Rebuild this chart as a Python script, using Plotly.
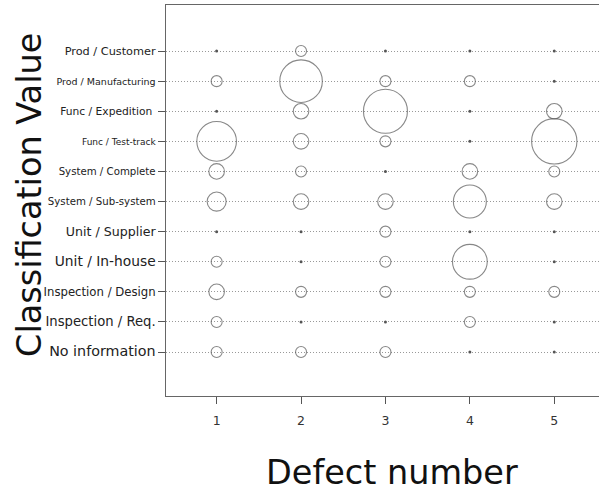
import plotly.graph_objects as go

# Categories, top to bottom as drawn
categories = [
    "Prod / Customer", "Prod / Manufacturing", "Func / Expedition ",
    "Func / Test-track", "System / Complete", "System / Sub-system",
    "Unit / Supplier", "Unit / In-house", "Inspection / Design",
    "Inspection / Req.", "No information",
]
defect_numbers = [1, 2, 3, 4, 5]

# Counts per defect number, same order as categories
defect_1 = [0, 1, 0, 13, 2, 3, 0, 1, 2, 1, 1]
defect_2 = [1, 15, 2, 2, 1, 2, 0, 0, 1, 0, 1]
defect_3 = [0, 1, 16, 1, 0, 2, 1, 1, 1, 0, 1]
defect_4 = [0, 1, 0, 0, 2, 9, 0, 10, 1, 1, 0]
defect_5 = [0, 0, 2, 17, 1, 2, 0, 0, 1, 0, 0]

x_title = "Defect number"
y_title = "Classification Value"

# style: per-label font sizes (px)
label_sizes = [11.3, 9.5, 10.7, 9.0, 10.2, 10.2, 12.6, 13.8, 11.7, 13.2, 14.3]

columns = [defect_1, defect_2, defect_3, defect_4, defect_5]

bx, by, bs = [], [], []
zx, zy = [], []
for d, col in zip(defect_numbers, columns):
    for cat, v in zip(categories, col):
        if v > 0:
            bx.append(d); by.append(cat); bs.append(v)
        else:
            zx.append(d); zy.append(cat)

line_col = "#555555"
fig = go.Figure()
fig.add_trace(go.Scatter(
    x=bx, y=by, mode="markers",
    marker=dict(symbol="circle-open", size=bs, sizemode="area",
                sizeref=1 / 60.5, color=line_col, line=dict(width=1.1)),
    hoverinfo="x+y", showlegend=False,
))
fig.add_trace(go.Scatter(
    x=zx, y=zy, mode="markers",
    marker=dict(symbol="circle", size=3, color=line_col),
    showlegend=False,
))

order_bottom_up = categories[::-1]
ticktext = [
    f'<span style="font-size:{s}px">{c.replace(" ", "&nbsp;") if c.endswith(" ") else c}</span>'
    for c, s in zip(categories, label_sizes)
]

fig.update_layout(
    width=599, height=495,
    margin=dict(l=166, r=0, t=5, b=99),
    paper_bgcolor="white", plot_bgcolor="white",
    font=dict(family="DejaVu Sans", color="#222222"),
    xaxis=dict(
        range=[0.4, 5.53], tickmode="array", tickvals=defect_numbers,
        showgrid=False, zeroline=False,
        showline=True, linecolor="#666666", linewidth=1.3, mirror=True,
        ticks="outside", ticklen=7, tickcolor="#555555", tickwidth=1,
        tickfont=dict(size=12.5, color="#333333"), ticklabelstandoff=6,
    ),
    yaxis=dict(
        type="category", categoryorder="array", categoryarray=order_bottom_up,
        range=[-1.46, 11.53],
        tickmode="array", tickvals=categories, ticktext=ticktext,
        showgrid=True, gridcolor="#999999", gridwidth=1, griddash="1px,2px",
        zeroline=False,
        showline=True, linecolor="#666666", linewidth=1.3, mirror=False,
        ticks="outside", ticklen=7, tickcolor="#555555", tickwidth=1,
        tickfont=dict(size=11, color="#222222"),
        automargin=False,
    ),
    annotations=[
        dict(text=x_title, xref="paper", yref="paper", x=(391.5 - 166) / 433,
             y=(396 - 472) / 391, xanchor="center", yanchor="middle",
             showarrow=False, font=dict(size=33.5, color="#111111")),
        dict(text=y_title, xref="paper", yref="paper", x=(29 - 166) / 433,
             y=(396 - 195) / 391, xanchor="center", yanchor="middle",
             textangle=-90, showarrow=False,
             font=dict(size=33.5, color="#111111")),
    ],
)
fig.write_html("out.html")
